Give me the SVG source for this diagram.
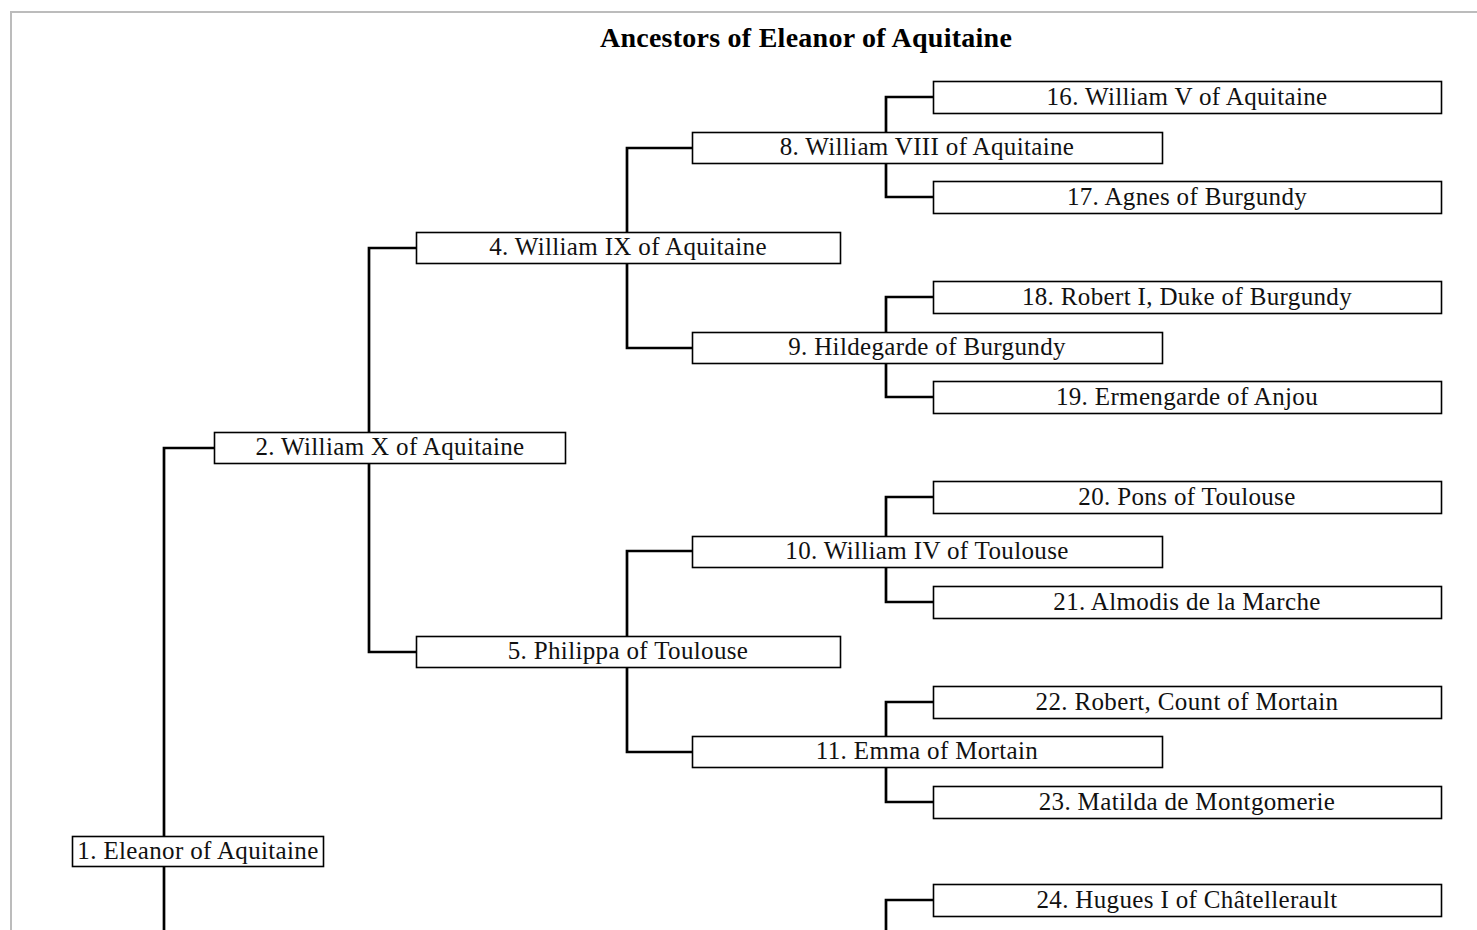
<svg xmlns="http://www.w3.org/2000/svg" width="1477" height="930" viewBox="0 0 1477 930">
<style>
.bx{fill:#fff;stroke:#000;stroke-width:1.6}
.t{font-family:"Liberation Serif","Times New Roman",serif;font-size:25px;letter-spacing:0.35px;text-anchor:middle;fill:#111}
.ttl{font-family:"Liberation Serif","Times New Roman",serif;font-size:28px;letter-spacing:0.25px;font-weight:bold;text-anchor:middle;fill:#000}
.c{fill:none;stroke:#000;stroke-width:2.7}
</style>
<rect x="0" y="0" width="1477" height="930" fill="#fff"/>
<rect x="11" y="12" width="1480" height="940" fill="none" stroke="#bcbcbc" stroke-width="2"/>
<text class="ttl" x="806" y="47">Ancestors of Eleanor of Aquitaine</text>
<g id="connectors">
<path class="c" d="M164 836V448H214"/>
<path class="c" d="M164 866V930"/>
<path class="c" d="M369 432V248H416"/>
<path class="c" d="M369 463V652H416"/>
<path class="c" d="M627 232V148H692"/>
<path class="c" d="M627 263V348H692"/>
<path class="c" d="M627 636V551H692"/>
<path class="c" d="M627 667V752H692"/>
<path class="c" d="M886 132V97H933"/>
<path class="c" d="M886 163V197H933"/>
<path class="c" d="M886 332V297H933"/>
<path class="c" d="M886 363V397H933"/>
<path class="c" d="M886 536V497H933"/>
<path class="c" d="M886 567V602H933"/>
<path class="c" d="M886 736V702H933"/>
<path class="c" d="M886 767V802H933"/>
<path class="c" d="M886 930V900H933"/>
</g>
<g id="n1"><rect class="bx" x="72.5" y="836.5" width="251" height="30"/><text class="t" x="198" y="859">1. Eleanor of Aquitaine</text></g>
<g id="n2"><rect class="bx" x="214.5" y="432.5" width="351" height="31"/><text class="t" x="390" y="455">2. William X of Aquitaine</text></g>
<g id="n4"><rect class="bx" x="416.5" y="232.5" width="424" height="31"/><text class="t" x="628" y="255">4. William IX of Aquitaine</text></g>
<g id="n5"><rect class="bx" x="416.5" y="636.5" width="424" height="31"/><text class="t" x="628" y="659">5. Philippa of Toulouse</text></g>
<g id="n8"><rect class="bx" x="692.5" y="132.5" width="470" height="31"/><text class="t" x="927" y="155">8. William VIII of Aquitaine</text></g>
<g id="n9"><rect class="bx" x="692.5" y="332.5" width="470" height="31"/><text class="t" x="927" y="355">9. Hildegarde of Burgundy</text></g>
<g id="n10"><rect class="bx" x="692.5" y="536.5" width="470" height="31"/><text class="t" x="927" y="559">10. William IV of Toulouse</text></g>
<g id="n11"><rect class="bx" x="692.5" y="736.5" width="470" height="31"/><text class="t" x="927" y="759">11. Emma of Mortain</text></g>
<g id="n16"><rect class="bx" x="933.5" y="81.5" width="508" height="32"/><text class="t" x="1187" y="105">16. William V of Aquitaine</text></g>
<g id="n17"><rect class="bx" x="933.5" y="181.5" width="508" height="32"/><text class="t" x="1187" y="205">17. Agnes of Burgundy</text></g>
<g id="n18"><rect class="bx" x="933.5" y="281.5" width="508" height="32"/><text class="t" x="1187" y="305">18. Robert I, Duke of Burgundy</text></g>
<g id="n19"><rect class="bx" x="933.5" y="381.5" width="508" height="32"/><text class="t" x="1187" y="405">19. Ermengarde of Anjou</text></g>
<g id="n20"><rect class="bx" x="933.5" y="481.5" width="508" height="32"/><text class="t" x="1187" y="505">20. Pons of Toulouse</text></g>
<g id="n21"><rect class="bx" x="933.5" y="586.5" width="508" height="32"/><text class="t" x="1187" y="610">21. Almodis de la Marche</text></g>
<g id="n22"><rect class="bx" x="933.5" y="686.5" width="508" height="32"/><text class="t" x="1187" y="710">22. Robert, Count of Mortain</text></g>
<g id="n23"><rect class="bx" x="933.5" y="786.5" width="508" height="32"/><text class="t" x="1187" y="810">23. Matilda de Montgomerie</text></g>
<g id="n24"><rect class="bx" x="933.5" y="884.5" width="508" height="32"/><text class="t" x="1187" y="908">24. Hugues I of Châtellerault</text></g>
</svg>
